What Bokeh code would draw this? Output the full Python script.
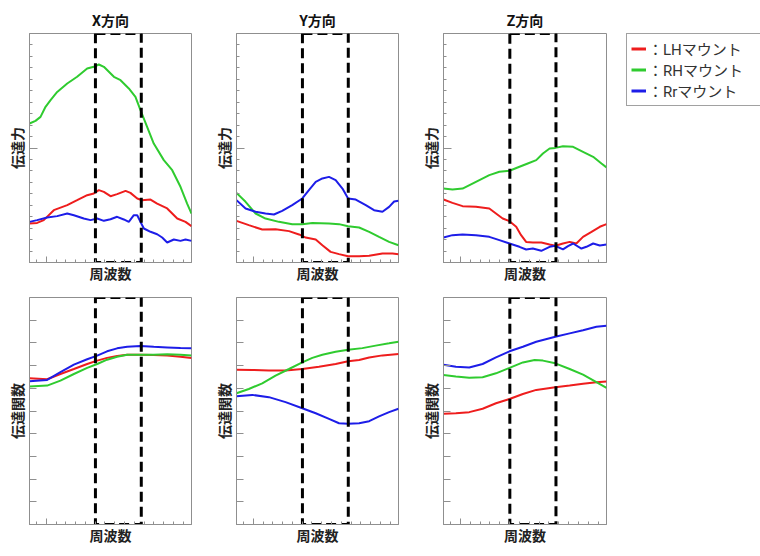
import numpy as np
from bokeh.plotting import figure
from bokeh.layouts import row, column
from bokeh.models import FixedTicker, Legend, LegendItem, LinearAxis
from bokeh.embed import file_html
from bokeh.resources import INLINE

# --- data (frequency axis is unitless 0..100) ---
titles = ["X方向", "Y方向", "Z方向"]
names = ["：LHマウント", "：RHマウント", "：Rrマウント"]
band = [40.7, 69.0]          # dashed frequency band
force_max = 20
tf_max = 10

# 伝達力, X direction
fx_lh_x = [0, 4.7, 8.8, 15.0, 23.3, 29.4, 35.6, 39.7, 42.8, 45.9, 50.0, 54.1, 59.3, 62.3, 66.5, 69.5, 74.7, 78.8, 85.0, 91.2, 96.3, 100]
fx_lh_y = [3.41, 3.46, 3.70, 4.57, 5.01, 5.44, 5.88, 6.03, 6.32, 6.17, 5.79, 5.97, 6.26, 6.08, 5.59, 5.44, 5.50, 5.15, 4.72, 3.84, 3.55, 3.17]
fx_rh_x = [0, 3.7, 6.8, 9.9, 13.0, 17.1, 23.3, 29.4, 35.6, 39.7, 42.8, 45.9, 52.1, 56.2, 61.3, 65.4, 68.5, 72.6, 76.7, 82.9, 88.1, 93.2, 97.3, 100]
fx_rh_y = [12.14, 12.37, 12.72, 13.6, 14.18, 14.9, 15.63, 16.22, 16.94, 17.09, 17.29, 17.09, 16.22, 15.92, 15.2, 14.47, 13.3, 11.85, 10.39, 8.94, 8.06, 6.61, 5.15, 4.28]
fx_rr_x = [0, 4.7, 10.9, 17.1, 23.3, 27.4, 33.5, 37.7, 41.8, 45.9, 50.0, 54.1, 58.2, 61.3, 64.4, 66.5, 68.5, 70.6, 74.7, 78.8, 81.9, 85.0, 89.1, 93.2, 96.3, 100]
fx_rr_y = [3.55, 3.70, 3.93, 4.05, 4.28, 4.13, 3.84, 3.70, 3.84, 3.64, 3.78, 3.99, 3.76, 3.55, 4.13, 4.13, 3.55, 2.97, 2.68, 2.47, 2.18, 1.75, 2.01, 1.89, 2.01, 1.89]

# 伝達力, Y direction
fy_lh_x = [0, 7.6, 15.9, 24.1, 32.4, 38.6, 42.7, 48.9, 53.0, 58.1, 63.3, 68.9, 75.7, 81.9, 90.1, 96.3, 100]
fy_lh_y = [3.64, 3.26, 2.88, 2.91, 2.74, 2.45, 2.18, 2.01, 1.51, 0.93, 0.73, 0.55, 0.55, 0.58, 0.79, 0.79, 0.73]
fy_rh_x = [0, 5.6, 11.8, 17.9, 26.2, 34.4, 40.6, 46.8, 57.1, 63.3, 68.9, 75.7, 81.9, 88.0, 94.2, 100]
fy_rh_y = [6.08, 5.30, 4.28, 3.84, 3.55, 3.35, 3.35, 3.46, 3.41, 3.35, 3.17, 3.06, 2.68, 2.24, 1.80, 1.51]
fy_rr_x = [0, 5.6, 11.8, 17.9, 23.1, 28.2, 34.4, 40.6, 44.7, 48.9, 53.0, 57.1, 61.2, 65.4, 68.9, 73.6, 79.8, 84.9, 90.1, 94.2, 97.3, 100]
fy_rr_y = [5.44, 4.72, 4.43, 4.28, 4.19, 4.51, 5.01, 5.59, 6.32, 7.05, 7.34, 7.48, 7.19, 6.46, 5.59, 5.50, 5.01, 4.57, 4.43, 4.86, 5.33, 5.39]

# 伝達力, Z direction
fz_lh_x = [0, 5.5, 11.7, 19.9, 28.1, 32.2, 36.3, 40.5, 44.6, 47.6, 50.7, 54.8, 60.0, 65.1, 68.6, 73.3, 77.4, 81.5, 85.6, 90.8, 95.9, 100]
fz_lh_y = [5.50, 5.21, 4.92, 4.86, 4.72, 4.28, 3.84, 3.61, 3.12, 2.39, 1.80, 1.75, 1.75, 1.57, 1.46, 1.66, 1.80, 1.66, 2.24, 2.68, 3.12, 3.35]
fz_rh_x = [0, 5.5, 11.7, 19.9, 28.1, 34.3, 40.5, 46.6, 51.7, 56.9, 61.0, 65.1, 68.6, 73.3, 79.5, 85.6, 91.8, 96.9, 100]
fz_rh_y = [6.46, 6.38, 6.46, 7.05, 7.63, 7.92, 8.01, 8.36, 8.65, 8.94, 9.52, 9.96, 10.01, 10.16, 10.10, 9.67, 9.23, 8.65, 8.30]
fz_rr_x = [0, 5.5, 11.7, 19.9, 28.1, 34.3, 40.5, 46.6, 50.7, 54.8, 60.0, 65.1, 68.6, 73.3, 76.4, 79.5, 84.6, 87.7, 91.8, 95.9, 100]
fz_rr_y = [2.18, 2.39, 2.45, 2.39, 2.24, 1.95, 1.66, 1.37, 1.14, 1.22, 1.02, 1.37, 1.46, 1.14, 1.43, 1.66, 1.22, 1.37, 1.66, 1.49, 1.57]

# 伝達関数, X direction
tx_x = [0, 10.9, 19.1, 27.4, 35.6, 41.8, 47.9, 54.1, 60.3, 68.5, 76.7, 85.0, 93.2, 100]
tx_lh = [6.44, 6.40, 6.63, 6.85, 7.07, 7.22, 7.34, 7.42, 7.48, 7.48, 7.47, 7.44, 7.39, 7.33]
tx_rh = [6.08, 6.12, 6.34, 6.63, 6.90, 7.07, 7.26, 7.39, 7.48, 7.48, 7.48, 7.50, 7.48, 7.45]
tx_rr = [6.31, 6.37, 6.71, 7.04, 7.28, 7.44, 7.63, 7.76, 7.83, 7.86, 7.83, 7.80, 7.77, 7.76]

# 伝達関数, Y direction
ty_lh_x = [0, 9.7, 20.0, 30.3, 40.6, 50.9, 61.2, 68.9, 75.7, 81.9, 90.1, 100]
ty_lh_y = [6.82, 6.81, 6.78, 6.78, 6.85, 6.95, 7.07, 7.19, 7.25, 7.36, 7.45, 7.51]
ty_rh_x = [0, 7.6, 15.9, 24.1, 32.4, 40.6, 46.8, 53.0, 61.2, 68.9, 77.7, 85.9, 94.2, 100]
ty_rh_y = [5.78, 5.97, 6.22, 6.56, 6.85, 7.14, 7.34, 7.48, 7.61, 7.70, 7.77, 7.88, 7.98, 8.05]
ty_rr_x = [0, 9.7, 20.0, 30.3, 40.6, 48.9, 57.1, 63.3, 68.9, 75.7, 81.9, 88.0, 94.2, 100]
ty_rr_y = [5.65, 5.71, 5.61, 5.39, 5.12, 4.90, 4.65, 4.46, 4.44, 4.46, 4.55, 4.76, 4.95, 5.10]

# 伝達関数, Z direction
tz_x = [0, 7.6, 15.8, 24.0, 32.2, 40.5, 48.7, 56.9, 68.6, 77.4, 85.6, 93.8, 100]
tz_lh = [4.88, 4.90, 4.95, 5.10, 5.34, 5.53, 5.75, 5.93, 6.05, 6.12, 6.20, 6.27, 6.30]
tz_rr = [7.04, 6.95, 6.92, 7.07, 7.36, 7.63, 7.83, 8.05, 8.27, 8.42, 8.56, 8.71, 8.76]
tz_rh_x = [0, 7.6, 15.8, 24.0, 32.2, 40.5, 48.7, 55.9, 61.0, 68.6, 77.4, 85.6, 93.8, 100]
tz_rh_y = [6.59, 6.52, 6.46, 6.49, 6.66, 6.90, 7.14, 7.25, 7.22, 7.10, 6.85, 6.60, 6.27, 6.02]

# tick positions
x_tall = [10.3]
x_short = [4.3, 16.4, 22.4, 28.4, 34.5, 40.5, 46.5, 52.6, 58.6, 64.6, 70.7, 76.7, 82.7, 88.8, 94.8]
force_tall = [10]
force_short = [1, 2, 3, 4, 5, 6, 7, 8, 9, 11, 12, 13, 14, 15, 16, 17, 18, 19]
tf_ticks = [1, 2, 3, 4, 5, 6, 7, 8, 9]

RED = "#ee1d1d"
GREEN = "#2fcb2f"
BLUE = "#1d1de8"
FONT = "Roboto, 'Noto Sans CJK JP'"
GRAY = "#8f8f8f"


def tick_axis(ticks, length):
    # label-less axis that only draws inward ticks
    ax = LinearAxis(ticker=FixedTicker(ticks=[], minor_ticks=ticks))
    ax.minor_tick_in = length
    ax.minor_tick_out = 0
    ax.major_tick_in = 0
    ax.major_tick_out = 0
    ax.minor_tick_line_color = GRAY
    ax.axis_line_color = GRAY
    ax.major_label_standoff = 0
    return ax


def make_panel(title, ylabel, lines, ymax, frame_h, top, bottom, frame_w, left_b, right_b):
    p = figure(frame_width=frame_w, frame_height=frame_h,
               x_range=(0, 100), y_range=(0, ymax),
               x_axis_type=None, y_axis_type=None,
               title=title, toolbar_location=None, output_backend="svg",
               min_border_left=left_b, min_border_right=right_b,
               min_border_top=top, min_border_bottom=bottom)
    if title:
        p.title.align = "center"
        p.title.text_font = FONT
        p.title.text_font_size = "14px"
        p.title.text_font_style = "bold"
        p.title.text_color = "#111111"
        p.title.standoff = 9
    p.grid.visible = False
    p.outline_line_color = GRAY

    for xs, ys, col in lines:
        p.line(xs, ys, line_color=col, line_width=2)

    p.quad(left=band[0], right=band[1], bottom=0, top=ymax, fill_color=None,
           line_color="black", line_width=3, line_dash="10 5")

    # x: one tall tick (inner axis) + short ticks with the label
    xa = tick_axis(x_short, 3)
    xa.axis_label = "周波数"
    below = [tick_axis(x_tall, 6), xa]

    if ymax == force_max:
        ya = tick_axis(force_short, 3)
        left = [tick_axis(force_tall, 8), ya]
    else:
        ya = tick_axis(tf_ticks, 7)
        left = [ya]
    ya.axis_label = ylabel

    for ax in (xa, ya):
        ax.axis_label_text_font = FONT
        ax.axis_label_text_font_size = "14px"
        ax.axis_label_text_font_style = "bold"
        ax.axis_label_text_color = "#222222"
    xa.axis_label_standoff = 3
    ya.axis_label_standoff = 4
    p.below = below
    p.left = left
    return p


top_lines = [
    [(fx_lh_x, fx_lh_y, RED), (fx_rh_x, fx_rh_y, GREEN), (fx_rr_x, fx_rr_y, BLUE)],
    [(fy_lh_x, fy_lh_y, RED), (fy_rh_x, fy_rh_y, GREEN), (fy_rr_x, fy_rr_y, BLUE)],
    [(fz_lh_x, fz_lh_y, RED), (fz_rh_x, fz_rh_y, GREEN), (fz_rr_x, fz_rr_y, BLUE)],
]
bottom_lines = [
    [(tx_x, tx_lh, RED), (tx_x, tx_rh, GREEN), (tx_x, tx_rr, BLUE)],
    [(ty_lh_x, ty_lh_y, RED), (ty_rh_x, ty_rh_y, GREEN), (ty_rr_x, ty_rr_y, BLUE)],
    [(tz_x, tz_lh, RED), (tz_rh_x, tz_rh_y, GREEN), (tz_x, tz_rr, BLUE)],
]

# the page itself has no margin, so the first column carries the offset
frames = [162, 162, 163]
lefts = [29, 21, 21]
rights = [22, 22, 14]

top_row = []
bottom_row = []
for i in range(3):
    top_row.append(make_panel(titles[i], "伝達力", top_lines[i], force_max,
                              229, 33, 23, frames[i], lefts[i], rights[i]))
    bottom_row.append(make_panel(None, "伝達関数", bottom_lines[i], tf_max,
                                 227, 12, 21, frames[i], lefts[i], rights[i]))

# legend panel (own small figure, no axes); must fit inside its canvas
leg = figure(width=142, height=285, x_range=(0, 1), y_range=(0, 1),
             x_axis_type=None, y_axis_type=None, title=None,
             toolbar_location=None, output_backend="svg",
             min_border_left=6, min_border_top=33,
             min_border_right=0, min_border_bottom=0)
leg.grid.visible = False
leg.outline_line_color = None
items = []
for name, col in zip(names, [RED, GREEN, BLUE]):
    r = leg.line(np.array([np.nan]), np.array([np.nan]), line_color=col, line_width=3)
    items.append(LegendItem(label=name, renderers=[r]))
legend = Legend(items=items, location="top_left", margin=0, padding=4,
                spacing=0, glyph_width=15, glyph_height=15, label_standoff=2,
                label_width=108, label_height=15,
                label_text_font=FONT, label_text_font_size="15px",
                label_text_color="#333333", border_line_color="#444444",
                border_line_width=1, background_fill_color="white",
                background_fill_alpha=1)
leg.add_layout(legend)
top_row.append(leg)

layout = column(row(*top_row), row(*bottom_row))

open("out.html", "w").write(file_html(layout, INLINE))
